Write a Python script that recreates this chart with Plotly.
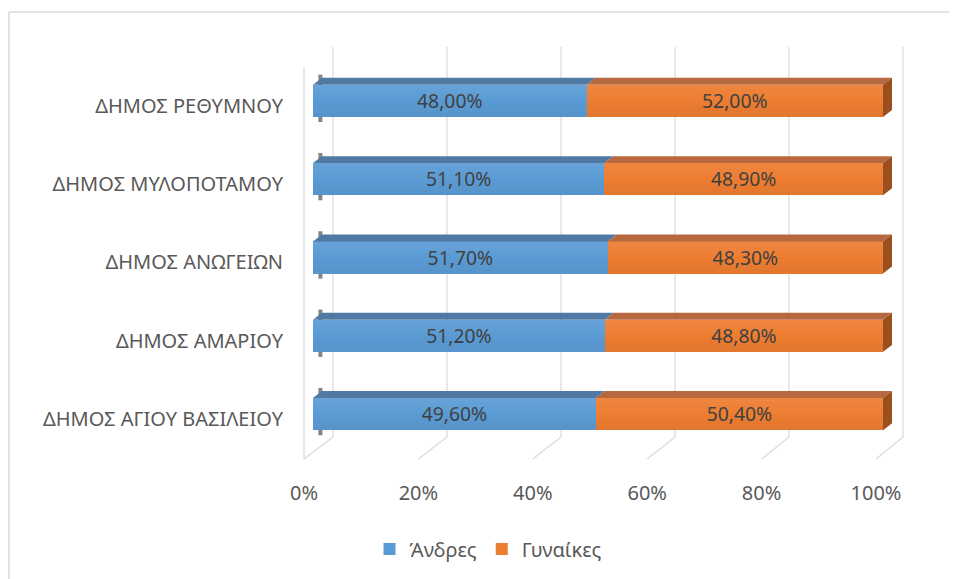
import plotly.graph_objects as go

# ---- data ----
categories = ["ΔΗΜΟΣ ΑΓΙΟΥ ΒΑΣΙΛΕΙΟΥ", "ΔΗΜΟΣ ΑΜΑΡΙΟΥ", "ΔΗΜΟΣ ΑΝΩΓΕΙΩΝ",
              "ΔΗΜΟΣ ΜΥΛΟΠΟΤΑΜΟΥ", "ΔΗΜΟΣ ΡΕΘΥΜΝΟΥ"]
men = [0.496, 0.512, 0.517, 0.511, 0.480]
women = [0.504, 0.488, 0.483, 0.489, 0.520]
series_names = ["Άνδρες", "Γυναίκες"]
tick_values = [0, 0.2, 0.4, 0.6, 0.8, 1.0]

# ---- style / layout constants (window pixels, page has 8px body margin) ----
OFF = 8
W, H = 957 - OFF, 579 - OFF
PX0, PX1, PY0, PY1 = 290, 915, 40, 470
L, R, T, B = PX0 - OFF, (W + OFF) - PX1, PY0 - OFF, (H + OFF) - PY1
PW, PH = PX1 - PX0, PY1 - PY0
FONT = "Noto Sans"
BLUE, ORANGE = "#5B9BD5", "#ED7D31"
BLUE_TOP, ORANGE_TOP, ORANGE_SIDE = "#5079A3", "#B8683F", "#9C4F1E"
GRID = "#D9D9D9"

x1_lo, x1_hi = (PX0 - 304) / 572, (PX1 - 304) / 572          # floor-front axis (ticks)
x2_lo, x2_hi = (PX0 - 313) / 570, (PX1 - 313) / 570          # bar axis
y_lo, y_hi = (415 - PY1) / 78.5, (415 - PY0) / 78.5

BAR_W = 0.41
DDX, DDY = 9 / 570, 7 / 78.5
BACK_DX = 20 / 570
FLOOR_BACK_Y = (415 - 438) / 78.5
FLOOR_FRONT_Y = (415 - 460) / 78.5
WALL_TOP_Y = (415 - 47) / 78.5
N_STRIPS = 8


def x1_to_x2(v):
    return (304 + 572 * v - 313) / 570


fig = go.Figure()
for name, vals, col in [(series_names[0], men, BLUE), (series_names[1], women, ORANGE)]:
    fig.add_trace(go.Bar(
        y=categories, x=vals, name=name, orientation="h",
        marker=dict(color=col, line=dict(width=0)),
        width=BAR_W, xaxis="x2",
        texttemplate="%{x:.2%}", textposition="inside", insidetextanchor="middle",
        textfont=dict(family=FONT, size=20, color="#404040"),
        hoverinfo="skip",
    ))
fig.add_trace(go.Scatter(x=[0, 1], y=[categories[0], categories[0]], mode="markers",
                         marker=dict(opacity=0), showlegend=False, hoverinfo="skip"))

shapes = []
for v in tick_values:
    bx = v + BACK_DX
    shapes.append(dict(type="line", xref="x2", yref="y", x0=bx, x1=bx,
                       y0=FLOOR_BACK_Y, y1=WALL_TOP_Y, line=dict(color=GRID, width=1.2), layer="below"))
    shapes.append(dict(type="line", xref="x2", yref="y", x0=bx, x1=x1_to_x2(v),
                       y0=FLOOR_BACK_Y, y1=FLOOR_FRONT_Y, line=dict(color=GRID, width=1.2), layer="below"))
shapes.append(dict(type="line", xref="x2", yref="y", x0=x1_to_x2(0), x1=x1_to_x2(0),
                   y0=FLOOR_FRONT_Y, y1=(415 - 67) / 78.5, line=dict(color=GRID, width=1.2), layer="below"))

for i, (m, w) in enumerate(zip(men, women)):
    yt = i + BAR_W / 2
    yb = i - BAR_W / 2
    shapes.append(dict(type="line", xref="x2", yref="y", x0=0.013, x1=0.013,
                       y0=i - 0.27, y1=yt + 0.13, line=dict(color="rgba(50,50,50,0.6)", width=4),
                       layer="below"))
    # soft vertical gradient on the front faces
    for k in range(N_STRIPS):
        t = (k + 0.5) / N_STRIPS            # 0 bottom -> 1 top
        s = t - 0.5
        col = f"rgba(255,255,255,{0.16 * s:.3f})" if s > 0 else f"rgba(0,0,0,{-0.10 * s:.3f})"
        shapes.append(dict(type="rect", xref="x2", yref="y", x0=0, x1=m + w,
                           y0=yb + BAR_W * k / N_STRIPS, y1=yb + BAR_W * (k + 1) / N_STRIPS,
                           fillcolor=col, line=dict(width=0), layer="above"))
    for x0, x1, c in [(0, m, BLUE_TOP), (m, m + w, ORANGE_TOP)]:
        path = (f"M {x0},{yt} L {x1},{yt} L {x1 + DDX},{yt + DDY} "
                f"L {x0 + DDX},{yt + DDY} Z")
        shapes.append(dict(type="path", xref="x2", yref="y", path=path,
                           fillcolor=c, line=dict(width=0), layer="above"))
    xe = m + w
    path = (f"M {xe},{yb} L {xe},{yt} L {xe + DDX},{yt + DDY} "
            f"L {xe + DDX},{yb + DDY} Z")
    shapes.append(dict(type="path", xref="x2", yref="y", path=path,
                       fillcolor=ORANGE_SIDE, line=dict(width=0), layer="above"))


def px(xp):
    return (xp - PX0) / PW


def py(yp):
    return (PY1 - yp) / PH


shapes.append(dict(type="line", xref="paper", yref="paper", x0=px(9), x1=px(970),
                   y0=py(12), y1=py(12), line=dict(color=GRID, width=1.5)))
shapes.append(dict(type="line", xref="paper", yref="paper", x0=px(9), x1=px(9),
                   y0=py(12), y1=py(590), line=dict(color=GRID, width=1.5)))

fig.update_layout(
    width=W, height=H,
    margin=dict(l=L, r=R, t=T, b=B),
    paper_bgcolor="white", plot_bgcolor="white",
    barmode="stack",
    separators=",.",
    font=dict(family=FONT, size=20, color="#595959"),
    xaxis=dict(range=[x1_lo, x1_hi], tickvals=tick_values, tickformat=".0%",
               showgrid=False, zeroline=False, showline=False, ticks="",
               ticklabelstandoff=10, tickfont=dict(size=20, color="#595959")),
    xaxis2=dict(range=[x2_lo, x2_hi], overlaying="x", visible=False),
    yaxis=dict(type="category", categoryorder="array", categoryarray=categories,
               range=[y_lo, y_hi], showgrid=False, zeroline=False, showline=False,
               ticks="", ticklabelshift=5, ticklabelstandoff=6,
               tickfont=dict(size=20, color="#595959")),
    showlegend=True,
    legend=dict(orientation="h", x=px(488), xanchor="center", y=py(549), yanchor="middle",
                traceorder="normal", font=dict(size=20, color="#595959")),
    shapes=shapes,
)

fig.write_html("out.html")
